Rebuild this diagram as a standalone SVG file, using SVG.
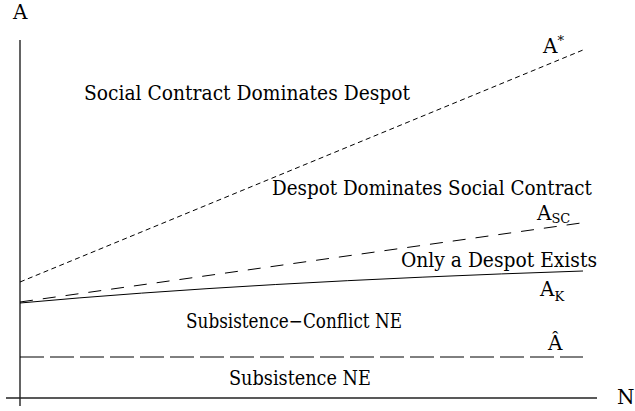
<svg xmlns="http://www.w3.org/2000/svg" width="635" height="411" viewBox="0 0 635 411">
<style>
text{font-family:"DejaVu Serif","Liberation Serif",serif;font-size:20px;fill:#000}
.sub{font-size:13px}
.ax{stroke:#222;stroke-width:1.4;fill:none}
.c{stroke:#000;stroke-width:1;fill:none}
</style>
<rect width="635" height="411" fill="#fff"/>
<g id="axes">
<line class="ax" x1="20" y1="40" x2="20" y2="406"/>
<line class="ax" x1="6" y1="398" x2="597" y2="398"/>
<text x="13" y="19">A</text>
<text x="617" y="404">N</text>
</g>
<g id="connectors">
<line class="c" x1="20" y1="282" x2="583" y2="50" stroke-dasharray="5 3.5"/>
<path class="c" d="M20,302 L581,223" stroke-dasharray="13 10"/>
<path class="c" d="M20,303 Q250,282 583,271"/>
<line class="c" x1="20" y1="357" x2="583" y2="357" stroke-dasharray="24 6"/>
</g>
<g id="curve-labels">
<text x="543" y="53">A<tspan class="sub" dy="-8">*</tspan></text>
<text x="537" y="220">A<tspan class="sub" dy="3">SC</tspan></text>
<text x="540" y="296">A<tspan class="sub" dy="5">K</tspan></text>
<text x="548" y="350">Â</text>
</g>
<g id="regions">
<text x="84" y="100" textLength="326" lengthAdjust="spacingAndGlyphs">Social Contract Dominates Despot</text>
<text x="272" y="195" textLength="320" lengthAdjust="spacingAndGlyphs">Despot Dominates Social Contract</text>
<text x="401" y="267" textLength="196" lengthAdjust="spacingAndGlyphs">Only a Despot Exists</text>
<text x="186" y="328" textLength="216" lengthAdjust="spacingAndGlyphs">Subsistence−Conflict NE</text>
<text x="229" y="385" textLength="142" lengthAdjust="spacingAndGlyphs">Subsistence NE</text>
</g>
</svg>
